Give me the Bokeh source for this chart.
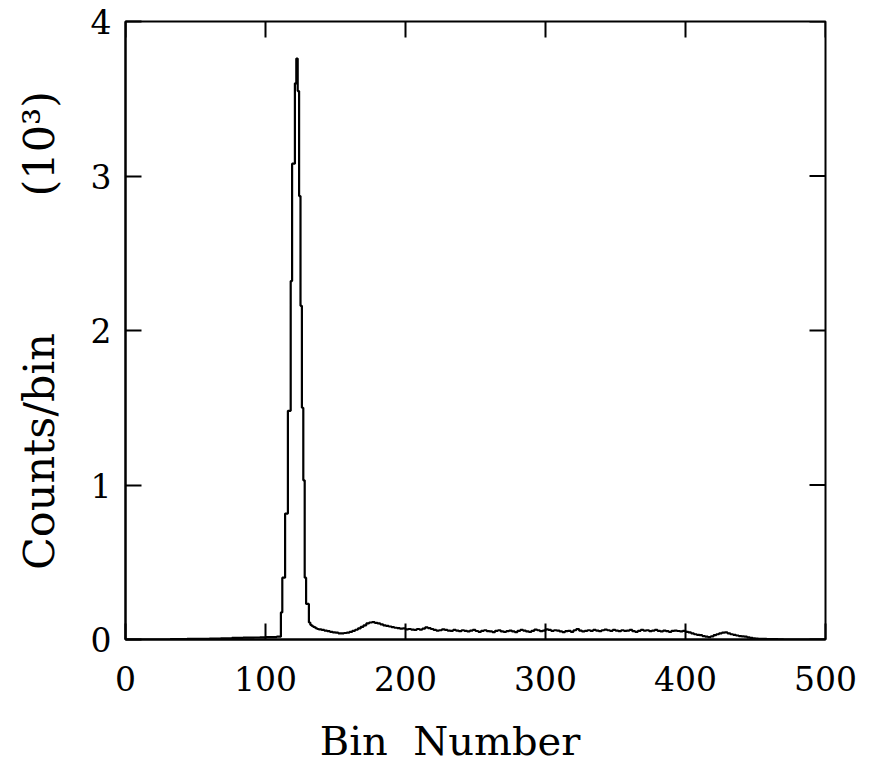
import math
from bokeh.plotting import figure
from bokeh.models import Range1d, FixedTicker
from bokeh.embed import file_html
from bokeh.resources import INLINE

# ---- data ----
# low region, bins of width 4 (last one runs to the peak)
low_bins = list(range(0, 111, 4))
low_counts = [0, 0, 0, 0, 0, 0, 0, 0, 2, 3, 3, 4, 4, 5, 5, 6, 6, 8, 8, 10, 10, 12, 12, 13, 14, 15, 16, 18]
# peak region, bins of width 1
peak_bins = list(range(111, 139))
peak_counts = [175, 400, 400, 815, 815, 1480, 1480, 2320, 3080, 3080, 3600, 3760,
               3550, 2870, 2160, 1500, 1030, 400, 230, 230, 110, 95, 88, 82, 78, 72, 68, 65]
# tail region, bins of width 2
tail_bins = list(range(140, 500, 2))
tail_counts = [
    62, 58, 54, 50, 46, 44,
    40, 40, 42, 45, 50, 56, 63, 72, 82, 92,
    104, 110, 112, 108, 104, 98, 92, 88, 84, 80,
    76, 74, 70, 72, 66, 68, 64, 62, 68, 64,
    70, 78, 74, 68, 62, 58, 60, 66, 62, 58,
    56, 62, 58, 54, 60, 56, 52, 58, 62, 55,
    50, 56, 60, 54, 52, 48, 56, 60, 52, 50,
    54, 58, 52, 48, 56, 62, 58, 52, 50, 56,
    64, 60, 54, 58, 66, 62, 56, 60, 58, 52,
    48, 54, 56, 50, 60, 68, 58, 52, 56, 60,
    56, 62, 58, 54, 60, 64, 60, 56, 62, 58,
    54, 60, 56, 58, 62, 54, 50, 56, 62, 58,
    60, 54, 58, 62, 56, 52, 58, 54, 50, 56,
    58, 55, 52, 56, 50, 46, 40, 34, 30, 28,
    22, 18, 16, 20, 28, 34, 40, 44, 46, 40,
    34, 30, 26, 22, 20, 18, 14, 10, 8, 6,
    5, 4, 4, 3, 3, 2, 2, 1, 1, 0,
    0, 0, 0, 0, 0, 0, 0, 0, 0, 0, 0, 0, 0, 0, 0,
]
x_ticks = [0, 100, 200, 300, 400, 500]
y_ticks = [0, 1, 2, 3, 4]
x_label = "Bin\u00a0\u00a0Number" + "\u00a0" * 4
y_label = "Counts/bin" + "\u00a0" * 10 + "(10³)"

bins = low_bins + peak_bins + tail_bins + [500]
counts = low_counts + peak_counts + tail_counts
counts_k = [c / 1000.0 for c in counts] + [counts[-1] / 1000.0]

FONT = "DejaVu Serif"

p = figure(width=872, height=769, output_backend="svg", toolbar_location=None,
           x_range=Range1d(0, 500), y_range=Range1d(0, 4),
           min_border_left=125, min_border_right=47, min_border_top=21, min_border_bottom=130)
p.background_fill_color = "white"
p.border_fill_color = "white"
p.grid.visible = False
p.outline_line_color = "black"
p.outline_line_width = 2

p.step(bins, counts_k, mode="after", line_color="black", line_width=2.2)

# inward ticks on top and right edges (half of each dash is clipped by the frame)
p.scatter(x_ticks, [y_ticks[-1]] * len(x_ticks), marker="dash", angle=math.pi / 2,
          size=32, line_color="black", line_width=2)
p.scatter([x_ticks[-1]] * len(y_ticks), y_ticks, marker="dash", angle=0,
          size=32, line_color="black", line_width=2)

for ax in p.xaxis:
    ax.ticker = FixedTicker(ticks=x_ticks)
    ax.major_tick_in = 16
    ax.major_tick_out = 0
    ax.minor_tick_line_color = None
    ax.axis_line_width = 2
    ax.major_tick_line_width = 2
    ax.major_label_text_font = FONT
    ax.major_label_text_font_size = "33px"
    ax.major_label_text_color = "black"
    ax.major_label_standoff = 26
    ax.axis_label = x_label
    ax.axis_label_text_font = FONT
    ax.axis_label_text_font_size = "40px"
    ax.axis_label_text_font_style = "normal"
    ax.axis_label_text_color = "black"
    ax.axis_label_standoff = 24

for ax in p.yaxis:
    ax.ticker = FixedTicker(ticks=y_ticks)
    ax.major_tick_in = 16
    ax.major_tick_out = 0
    ax.minor_tick_line_color = None
    ax.axis_line_width = 2
    ax.major_tick_line_width = 2
    ax.major_label_text_font = FONT
    ax.major_label_text_font_size = "33px"
    ax.major_label_text_color = "black"
    ax.major_label_standoff = 14
    ax.major_label_orientation = "horizontal"
    ax.axis_label = y_label
    ax.axis_label_text_font = FONT
    ax.axis_label_text_font_size = "43px"
    ax.axis_label_text_font_style = "normal"
    ax.axis_label_text_color = "black"
    ax.axis_label_standoff = 24

open("out.html", "w").write(file_html(p, INLINE))
